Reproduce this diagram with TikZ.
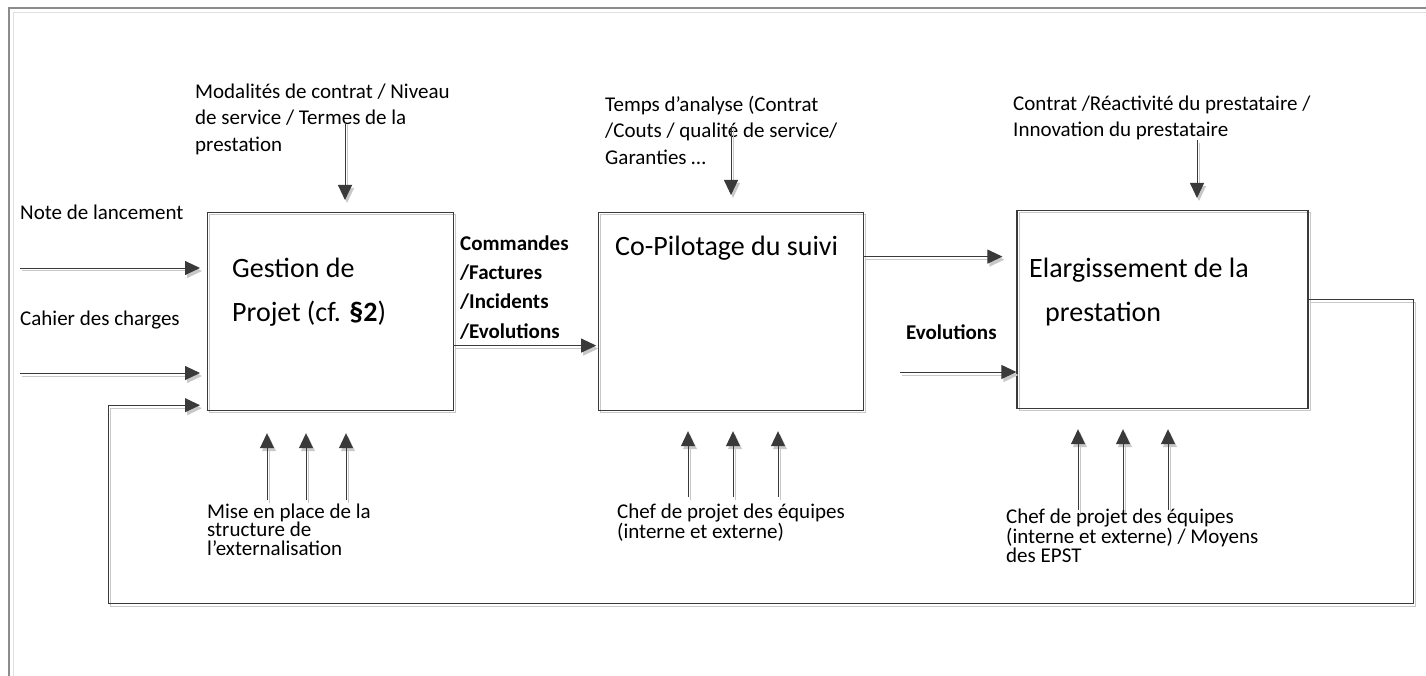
\documentclass[tikz,border=0pt]{standalone}
\usepackage{fontspec}
\setmainfont{Carlito}
\usepackage{xcolor}
\usetikzlibrary{arrows.meta,positioning}

\definecolor{linegray}{HTML}{3A3A3A}
\definecolor{shadegray}{HTML}{C8C8C8}

\begin{document}
\begin{tikzpicture}[x=1pt, y=-1pt, node distance=144pt,
  stage/.style={draw=linegray, line width=1.2pt, minimum height=198pt, inner sep=0pt,
    preaction={draw=shadegray, line width=1pt, transform canvas={shift={(2pt,-2pt)}}}},
  title/.style={align=left, inner sep=0pt, font=\fontsize{28}{44}\selectfont},
  note/.style={align=left, inner sep=0pt, font=\fontsize{21}{26.5}\selectfont},
  lownote/.style={align=left, inner sep=0pt, font=\fontsize{21}{18.5}\selectfont},
  tag/.style={align=left, inner sep=0pt, font=\bfseries\fontsize{21}{29.3}\selectfont},
  flow/.style={-{Triangle[length=15pt,width=14pt]}, draw=linegray, line width=0.9pt,
    preaction={draw=shadegray, line width=1pt, transform canvas={shift={(2pt,-3pt)}}}}]
\useasboundingbox (0,0) rectangle (1426,676);
% frame
\draw[draw=black!45, line width=1.2pt] (9,676) -- (9,8) -- (1426,8);
\draw[draw=black!12, line width=1pt] (13,676) -- (13,13) -- (1426,13);

% stages
\node[stage, minimum width=246pt, anchor=north west] (gestion) at (207,212) {};
\node[stage, minimum width=265pt, right=144pt of gestion] (pilot) {};
\node[stage, minimum width=291pt, right=152pt of pilot, yshift=2pt] (elarg) {};

% base anchor = baseline of the last line
\node[title, anchor=base west] (gestionT) at (232,321) {Gestion de\\Projet (cf. \textbf{§2})};
\node[title, anchor=base west] (pilotT) at (615,255) {Co-Pilotage du suivi};
\node[title, anchor=base west] (elargT) at (1029,321) {Elargissement de la\\\hspace*{16pt}prestation};

% texts
\node[note, anchor=base west] (modal) at (195,151.5) {Modalités de contrat / Niveau\\de service / Termes de la\\prestation};
\node[note, anchor=base west] (temps) at (605,164.5) {Temps d’analyse (Contrat\\/Couts / qualité de service/\\Garanties …};
\node[note, anchor=base west] (contrat) at (1013,137) {Contrat /Réactivité du prestataire /\\Innovation du prestataire};
\node[note, anchor=base west] (lancement) at (20,220) {Note de lancement};
\node[note, anchor=base west] (cahier) at (20,325) {Cahier des charges};
\node[tag, anchor=base west] (commandes) at (460,338) {Commandes\\/Factures\\/Incidents\\/Evolutions};
\node[tag, anchor=base west] (evol) at (906,339) {Evolutions};
\node[lownote, anchor=base west] (mise) at (207,555) {Mise en place de la\\structure de\\l’externalisation};
\node[lownote, anchor=base west] (chef) at (617,538) {Chef de projet des équipes\\(interne et externe)};
\node[lownote, anchor=base west] (chefb) at (1006,562) {Chef de projet des équipes\\(interne et externe) / Moyens\\des EPST};

% free ends
\coordinate (top1) at (345,122);
\coordinate (top2) at (731,126);
\coordinate (top3) at (1197,140);
\coordinate (in1) at (20,268);
\coordinate (in2) at (20,373);
\coordinate (in3) at (900,372);
\coordinate (loopR) at (1413,603);
\coordinate (loopL) at (108,603);

% controls
\draw[flow, shorten >=12pt] (top1) -- (top1 |- gestion.north);
\draw[flow, shorten >=17pt] (top2) -- (top2 |- pilot.north);
\draw[flow, shorten >=12pt] (top3) -- (top3 |- elarg.north);

% inputs and outputs
\draw[flow, shorten >=7pt] (in1) -- (in1 -| gestion.west);
\draw[flow, shorten >=7pt] (in2) -- (in2 -| gestion.west);
\draw[flow, shorten >=2pt] ([yshift=-34pt]gestion.east) -- ([yshift=-34pt]pilot.west);
\draw[flow, shorten >=14pt] ([yshift=55pt]pilot.east) -- ([yshift=55pt]pilot.east -| elarg.west);
\draw[flow] (in3) -- (in3 -| elarg.west);
\draw[flow, shorten >=7pt] ([yshift=10pt]elarg.east) -| (loopR) -- (loopL) |- ([yshift=6pt]gestion.south west);

% mechanisms
\foreach \x [count=\i] in {267,306,346} {
  \coordinate (m1\i) at (\x,500);
  \draw[flow, shorten >=22pt] (m1\i) -- (m1\i |- gestion.south);
}
\foreach \x [count=\i] in {688,733,778} {
  \coordinate (m2\i) at (\x,497);
  \draw[flow, shorten >=20pt] (m2\i) -- (m2\i |- pilot.south);
}
\foreach \x [count=\i] in {1078,1123,1168} {
  \coordinate (m3\i) at (\x,510);
  \draw[flow, shorten >=20pt] (m3\i) -- (m3\i |- elarg.south);
}
\end{tikzpicture}
\end{document}
